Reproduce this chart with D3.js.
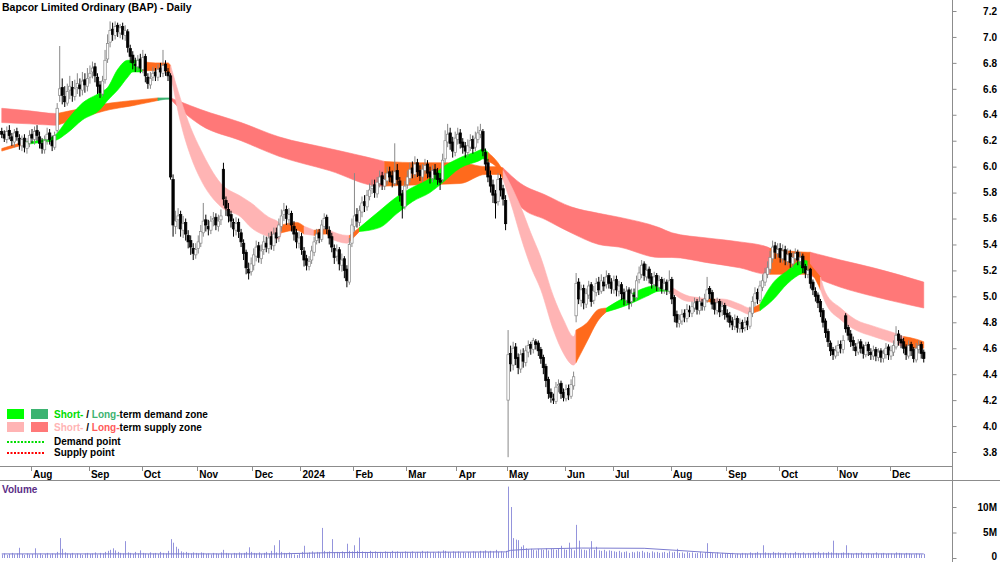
<!DOCTYPE html>
<html>
<head>
<meta charset="utf-8">
<script src="https://cdn.jsdelivr.net/npm/d3@7"></script>
<style>
body { margin: 0; background: #fff; }
svg { display: block; font-family: "Liberation Sans", Arial, sans-serif; }
</style>
</head>
<body>
<div id="chart"></div>
<script>
// month tick labels and the bar index where each month starts
var monthLabels = ["Aug","Sep","Oct","Nov","Dec","2024","Feb","Mar","Apr","May","Jun","Jul","Aug","Sep","Oct","Nov","Dec"];
var monthStarts = [12,35,56,78,100,119,140,161,181,201,224,243,266,288,309,332,353];

var priceTicks = [3.8,4.0,4.2,4.4,4.6,4.8,5.0,5.2,5.4,5.6,5.8,6.0,6.2,6.4,6.6,6.8,7.0,7.2];
var volTicks = [0, 5, 10];
var volTickLabels = ["0", "5M", "10M"];

// daily bars, prices in cents (Jul 2023 .. Dec 2024)
var opens = [
 627,625,621,628,623,619,627,622,616,622,614,618,
 625,621,628,623,618,613,621,626,620,615,628,655,661,654,649,659,661,654,661,663,659,667,662,
 669,673,677,669,663,656,667,683,696,706,701,709,703,708,701,704,691,686,679,677,683,
 675,685,669,663,669,673,669,676,672,679,673,670,590,554,559,563,551,557,547,543,537,532,
 537,541,549,559,554,551,559,561,554,559,598,574,567,563,557,551,557,549,541,534,521,519,
 524,531,539,529,536,541,537,546,539,549,546,554,563,567,559,564,554,549,541,
 546,535,529,523,528,534,543,549,544,554,561,551,546,537,531,536,524,529,521,511,541,
 554,563,557,565,573,569,577,583,586,579,587,593,585,589,596,593,587,597,589,579,569,
 586,591,599,594,603,597,592,597,602,596,591,598,595,591,590,606,619,626,619,611,
 621,626,619,616,611,615,621,615,621,625,627,611,603,593,586,579,573,591,583,574,
 420,456,447,461,453,444,456,449,457,463,459,465,464,459,453,446,436,426,421,419,431,433,426,
 421,429,423,431,485,511,497,506,494,501,509,497,503,511,504,511,509,516,511,
 505,513,504,509,503,497,505,496,501,499,513,517,525,515,521,515,509,516,507,513,505,511,504,
 513,499,486,479,481,487,483,489,487,491,496,489,495,492,497,506,503,495,489,496,489,493,
 487,485,481,477,483,475,480,476,481,477,487,495,503,497,507,511,517,521,529,539,533,
 537,529,536,527,533,525,529,534,527,531,523,517,521,511,504,501,496,489,481,473,464,459,454,
 457,463,459,485,476,471,466,461,457,465,461,455,463,457,454,459,453,458,452,455,461,
 454,457,461,471,467,465,461,454,463,459,451,459,463,457
];
var highs = [
 630,628,631,632,626,629,630,625,624,625,622,628,
 629,631,632,627,622,624,630,629,624,627,649,693,668,662,664,670,666,667,672,668,673,672,676,
 678,681,680,672,666,670,690,702,712,711,712,711,710,711,709,706,694,689,684,686,687,
 690,687,672,673,677,676,679,680,690,682,676,672,594,566,568,566,562,560,551,547,541,541,
 547,555,572,563,559,562,565,564,563,567,603,577,572,566,560,561,560,552,544,536,526,530,
 537,543,542,540,547,546,549,550,553,553,560,567,572,570,568,566,558,552,550,
 549,538,532,531,539,546,552,552,559,564,563,554,549,540,540,538,533,531,524,545,560,
 595,568,570,577,578,582,587,590,590,592,597,596,595,600,600,597,618,602,592,582,589,
 597,603,604,608,606,601,602,606,605,600,601,602,599,595,610,628,633,630,623,627,
 630,629,622,619,621,625,624,627,631,633,629,614,606,597,590,582,595,594,586,578,
 474,462,465,464,456,459,460,462,466,465,468,467,466,461,455,448,438,429,425,434,436,435,429,
 432,432,436,442,518,514,509,509,506,512,511,508,514,515,517,515,520,518,514,
 516,516,512,511,506,508,507,506,506,516,523,528,527,525,523,518,519,518,516,515,514,513,520,
 515,501,489,486,490,490,494,493,496,499,498,500,498,502,515,508,505,498,499,498,496,495,
 490,488,484,486,485,483,482,484,484,492,500,507,506,512,517,522,527,535,543,542,541,
 541,540,539,537,536,534,537,536,534,533,525,524,522,513,507,503,498,491,483,475,466,461,462,
 466,466,470,487,478,474,469,464,467,467,463,465,465,460,462,461,460,460,459,464,463,
 462,466,477,474,470,468,463,466,465,461,464,466,465,459
];
var lows = [
 622,619,618,621,616,615,620,613,612,611,610,615,
 618,617,620,614,610,610,617,617,612,613,626,650,648,646,647,652,650,651,656,654,655,657,658,
 664,668,665,656,653,654,664,680,692,697,698,700,699,698,697,688,680,675,673,674,672,
 672,665,660,660,666,666,666,669,669,670,666,590,546,548,552,546,545,543,537,532,528,529,
 533,538,546,550,547,548,554,551,550,555,570,562,557,553,546,547,545,538,528,517,513,516,
 520,527,526,525,532,534,533,536,535,541,542,550,558,555,555,550,543,537,537,
 532,523,520,520,525,531,540,541,542,551,548,540,534,525,527,520,519,514,507,509,538,
 550,553,554,561,565,566,574,579,576,576,584,582,582,586,588,584,585,586,573,560,567,
 583,588,591,591,592,589,588,594,591,587,588,590,586,582,588,603,615,613,607,608,
 617,614,610,607,608,612,610,612,618,622,608,597,588,580,572,560,570,577,570,551,
 376,442,443,447,440,441,445,446,453,455,456,459,454,448,440,430,421,418,417,417,426,421,419,
 419,420,421,428,480,494,492,490,491,498,492,494,500,501,502,504,506,506,502,
 502,500,500,497,493,494,490,492,496,497,510,514,512,512,510,506,506,504,504,502,502,501,502,
 494,480,476,476,478,480,480,484,484,488,486,486,489,489,495,498,490,486,486,484,485,482,
 480,476,474,474,472,472,472,473,474,475,484,492,494,495,504,508,514,518,526,529,530,
 526,526,524,524,522,522,526,524,524,518,514,514,506,501,496,491,484,476,468,461,454,451,452,
 454,456,456,472,466,461,458,454,455,456,452,453,454,451,451,450,450,449,449,452,451,
 451,454,459,462,460,456,451,452,454,449,449,456,452,449
];
var closes = [
 625,622,627,624,620,626,623,617,621,615,619,624,
 622,627,624,618,614,620,625,621,616,624,645,660,655,650,658,662,655,660,664,660,666,663,668,
 672,676,670,662,657,666,682,695,705,702,708,704,707,702,705,692,685,680,678,682,676,
 684,670,664,668,672,670,675,673,678,674,670,592,555,558,562,552,556,548,542,538,533,536,
 542,550,558,555,552,558,560,555,558,562,575,568,562,558,552,556,550,542,533,522,518,525,
 532,538,530,535,542,538,545,540,548,545,555,562,566,560,563,555,548,542,545,
 536,528,524,527,535,542,548,545,555,560,552,545,538,530,535,525,528,520,512,540,555,
 562,558,566,572,570,578,582,585,580,588,592,586,590,595,592,588,596,590,578,570,585,
 592,598,595,602,596,593,598,601,595,592,597,594,590,588,605,620,625,618,612,622,
 625,618,615,612,616,620,614,622,626,628,612,602,592,585,578,572,590,582,575,556,
 455,448,460,452,445,455,450,458,462,460,466,463,458,452,445,435,425,422,420,430,432,425,422,
 428,424,432,438,510,498,505,495,502,508,496,504,510,505,512,508,515,510,506,
 512,505,508,502,498,504,495,502,500,512,518,524,516,520,514,510,515,508,512,506,510,505,512,
 498,485,480,482,486,484,490,488,492,495,490,496,493,498,505,502,494,490,495,488,492,486,
 484,480,478,482,476,479,475,480,478,488,496,502,498,508,512,518,522,530,538,534,536,
 530,535,528,532,526,530,533,528,530,522,518,520,510,505,500,495,488,480,472,465,458,455,458,
 462,460,466,475,470,465,462,458,464,460,456,462,458,455,458,454,457,453,456,460,455,
 458,462,470,466,464,460,455,462,458,452,460,462,456,452
];
// volume in units of 100k shares
var volumes = [
 7,9,6,8,10,7,9,20,8,6,9,7,
 8,19,7,9,6,8,10,7,9,8,12,39,18,11,9,8,10,7,9,8,6,9,10,
 8,9,11,7,10,9,12,14,16,19,15,12,10,9,33,11,10,8,12,9,15,
 10,9,8,11,9,10,8,12,10,9,14,37,30,22,18,13,11,12,10,9,11,10,
 9,11,10,8,9,7,10,9,8,11,16,10,9,8,10,9,11,9,10,12,21,12,
 10,9,11,8,10,12,9,14,25,11,35,12,10,9,11,8,7,6,9,
 12,24,10,11,13,10,12,11,59,14,12,13,37,11,12,10,13,11,28,14,13,
 25,14,40,13,12,11,14,12,13,11,12,10,13,12,11,14,12,13,11,12,13,
 12,11,13,10,12,11,14,12,13,11,12,10,13,11,15,14,12,11,13,12,
 13,11,12,10,12,11,13,12,11,14,13,15,12,14,13,16,12,13,11,14,
 140,100,39,36,35,22,25,19,17,18,16,15,18,17,16,19,15,18,17,16,18,24,17,
 16,30,18,15,65,34,17,16,15,18,33,16,22,15,14,16,13,15,14,
 13,12,14,11,12,13,10,12,11,13,12,14,11,12,10,13,11,12,10,11,12,10,13,
 11,12,18,10,11,9,12,10,11,9,10,12,9,11,29,12,10,9,11,8,10,9,
 9,8,10,7,9,8,10,9,8,11,9,10,12,9,25,11,10,9,12,10,11,
 10,9,11,8,10,9,12,10,9,11,8,10,9,11,10,12,9,11,10,12,11,34,10,
 9,10,11,25,10,9,8,10,9,11,8,9,10,8,9,11,8,9,10,8,9,
 9,8,11,10,9,8,10,9,8,7,9,8,7,8
];
// average volume line (millions), read at these bar indices
var volAvgIdx = [0, 110, 130, 200, 202, 210, 230, 255, 268, 280, 292, 366];
var volAvg = [0.8, 0.8, 1.05, 1.2, 1.5, 1.75, 1.95, 1.9, 1.5, 1.1, 0.8, 0.8];

// short-term zone edges (cents) at bar indices; o = mixed, g = demand, p = supply
var shortIdx = [0,7,9,17,21,26,32,39,42,46,50,52,55,56,61,66,67,71,75,79,87,95,99,106,110,111,117,120,124,129,130,137,138,142,150,157,163,170,174,182,190,191,193,197,199,203,206,210,214,219,223,227,228,232,237,240,248,256,261,265,266,273,277,280,283,286,293,297,298,301,306,312,318,320,322,325,327,333,339,346,354,358,363,366];
var shortHi = [614,618,619,621,624,636,649,657,661,675,682,682,682,681,680,680,678,652,630,613,587,577,572,561,557,555,557,554,551,552,551,547,547,553,566,577,584,591,598,607,613,614,611,603,597,582,569,549,530,500,482,469,474,479,490,491,500,507,509,509,507,500,499,498,498,498,494,491,491,494,510,520,528,527,522,515,503,491,482,477,472,469,467,465];
var shortLo = [612,616,617,619,620,626,636,644,651,659,669,673,673,674,674,673,672,634,608,590,569,561,553,546,544,549,551,548,547,548,545,541,542,550,553,564,573,580,586,599,605,606,604,598,590,566,546,523,505,474,456,447,449,464,482,488,493,500,504,504,503,496,496,496,495,494,489,486,487,489,497,510,518,519,516,505,495,482,474,469,464,461,460,460];
var shortState = ["o","o","g","g","g","g","g","g","g","g","g","g","g","o","o","o","p","p","p","p","p","p","p","p","p","o","o","p","o","o","p","p","o","g","g","g","g","g","g","g","g","g","o","o","p","p","p","p","p","p","p","p","o","o","o","g","g","g","g","o","p","p","p","o","p","p","p","p","o","g","g","g","g","o","o","p","p","p","p","p","p","o","o","p"];

// long-term zone edges (cents); r = supply, o = mixed, G = demand
var longIdx = [0,11,21,22,32,43,52,57,62,66,67,71,79,95,110,130,150,152,166,182,192,197,199,206,216,226,237,245,261,266,280,293,304,305,320,321,333,346,366];
var longHi = [645,643,641,641,645,649,651,652,653,653,653,650,644,634,623,614,605,604,603,603,600,600,599,587,578,569,564,561,553,549,545,542,538,537,534,534,528,522,511];
var longLo = [634,633,632,632,638,644,647,649,651,652,652,644,632,620,608,597,585,585,586,587,594,594,592,569,559,549,540,538,530,530,526,522,517,517,517,516,507,500,491];
var longState = ["r","r","r","o","o","o","o","o","G","G","r","r","r","r","r","r","r","o","o","o","o","o","r","r","r","r","r","r","r","r","r","r","r","o","o","r","r","r","r"];

var shortColors = { g: "#00ff00", p: "#ffb4b4", o: "#ff6a1c" };
var longColors = { G: "#3cb371", r: "#ff7878", o: "#ff6a1c" };

var width = 1000, height = 562;

var svg = d3.select("#chart").append("svg")
    .attr("width", width)
    .attr("height", height);

var x = d3.scaleLinear().domain([12, 353]).range([32, 891]);
var y = d3.scaleLinear().domain([3.8, 7.2]).range([452, 11]);
var yv = d3.scaleLinear().domain([0, 10]).range([558, 507]);

svg.append("clipPath").attr("id", "mainClip")
  .append("rect").attr("x", 0).attr("y", 0).attr("width", 952).attr("height", 466);

var plot = svg.append("g").attr("clip-path", "url(#mainClip)");

// zones drawn as runs of the same state
function drawZone(g, idx, hi, lo, st, colors){
    var area = d3.area()
        .x(function(k){ return x(idx[k]); })
        .y0(function(k){ return y(lo[k] / 100); })
        .y1(function(k){ return y(hi[k] / 100); })
        .curve(d3.curveMonotoneX);
    var start = 0;
    for (var k = 1; k < idx.length; k++) {
        if (k === idx.length - 1 || st[k] !== st[start]) {
            g.append("path")
                .datum(d3.range(start, k + 1))
                .attr("fill", colors[st[start]])
                .attr("stroke", colors[st[start]])
                .attr("stroke-width", 0.6)
                .attr("d", area);
            start = k;
        }
    }
}

drawZone(plot.append("g"), longIdx, longHi, longLo, longState, longColors);
drawZone(plot.append("g"), shortIdx, shortHi, shortLo, shortState, shortColors);

// candles
var bars = d3.range(closes.length);
var candles = plot.append("g").selectAll("g")
    .data(bars)
    .enter()
    .append("g");

candles.append("line")
    .attr("x1", function(i){ return x(i); })
    .attr("x2", function(i){ return x(i); })
    .attr("y1", function(i){ return y(highs[i] / 100); })
    .attr("y2", function(i){ return y(lows[i] / 100); })
    .attr("stroke", function(i){ return closes[i] >= opens[i] ? "#888" : "#000"; })
    .attr("stroke-width", 1);

candles.append("rect")
    .attr("x", function(i){ return x(i) - 1.2; })
    .attr("width", 2.4)
    .attr("y", function(i){ return y(Math.max(opens[i], closes[i]) / 100); })
    .attr("height", function(i){
        return Math.max(0.8, Math.abs(y(opens[i] / 100) - y(closes[i] / 100)));
    })
    .attr("fill", function(i){ return closes[i] >= opens[i] ? "#fff" : "#000"; })
    .attr("stroke", function(i){ return closes[i] >= opens[i] ? "#888" : "#000"; })
    .attr("stroke-width", 0.7);

// frame lines
svg.append("line").attr("x1", 0).attr("x2", 952).attr("y1", 466.5).attr("y2", 466.5)
    .attr("stroke", "#8c8c8c");
svg.append("line").attr("x1", 0).attr("x2", 1000).attr("y1", 480.5).attr("y2", 480.5)
    .attr("stroke", "#8c8c8c");
svg.append("line").attr("x1", 952.5).attr("x2", 952.5).attr("y1", 0).attr("y2", 562)
    .attr("stroke", "#8c8c8c");

// price axis
var yAxis = svg.append("g")
    .attr("transform", "translate(952.5,0)")
    .call(d3.axisRight(y).tickValues(priceTicks).tickSize(4).tickFormat(d3.format(".1f")));
yAxis.select(".domain").remove();
yAxis.selectAll("line").attr("stroke", "#8c8c8c");
yAxis.selectAll("text")
    .attr("x", 44.5)
    .attr("text-anchor", "end")
    .attr("fill", "#000")
    .style("font-family", "Liberation Sans, Arial, sans-serif")
    .style("font-size", "10px")
    .style("font-weight", "bold");

// volume axis
var vAxis = svg.append("g")
    .attr("transform", "translate(952.5,0)")
    .call(d3.axisRight(yv).tickValues(volTicks).tickSize(4)
        .tickFormat(function(d, k){ return volTickLabels[k]; }));
vAxis.select(".domain").remove();
vAxis.selectAll("line").attr("stroke", "#8c8c8c");
vAxis.selectAll("text")
    .attr("x", 44.5)
    .attr("text-anchor", "end")
    .attr("fill", "#000")
    .style("font-family", "Liberation Sans, Arial, sans-serif")
    .style("font-size", "10px")
    .style("font-weight", "bold");
// keep the zero label inside the picture
vAxis.selectAll("text").filter(function(d){ return d === 0; })
    .attr("dy", "0.1em");

// month ticks
var months = svg.append("g").selectAll("g")
    .data(monthStarts)
    .enter()
    .append("g");
months.append("line")
    .attr("x1", function(d){ return Math.round(x(d) - 1.3) + 0.5; })
    .attr("x2", function(d){ return Math.round(x(d) - 1.3) + 0.5; })
    .attr("y1", 467).attr("y2", 471)
    .attr("stroke", "#8c8c8c");
months.append("text")
    .attr("x", function(d){ return x(d) + 1; })
    .attr("y", 477.5)
    .style("font-size", "10px")
    .style("font-weight", "bold")
    .text(function(d, k){ return monthLabels[k]; });

// volume bars
svg.append("g").selectAll("line")
    .data(bars)
    .enter()
    .append("line")
    .attr("x1", function(i){ return Math.round(x(i)) + 0.5; })
    .attr("x2", function(i){ return Math.round(x(i)) + 0.5; })
    .attr("y1", yv(0))
    .attr("y2", function(i){ return yv(volumes[i] / 10); })
    .attr("stroke", "#9494dc")
    .attr("stroke-width", 1);

svg.append("path")
    .datum(d3.range(volAvgIdx.length))
    .attr("fill", "none")
    .attr("stroke", "#7c7cd0")
    .attr("stroke-width", 1)
    .attr("d", d3.line()
        .x(function(k){ return x(volAvgIdx[k]); })
        .y(function(k){ return yv(volAvg[k]); }));

svg.append("text")
    .attr("x", 2).attr("y", 493)
    .attr("fill", "#5a2d86")
    .style("font-size", "10px")
    .style("font-weight", "bold")
    .text("Volume");

// title
svg.append("text")
    .attr("x", 2).attr("y", 11)
    .style("font-size", "10.5px")
    .style("font-weight", "bold")
    .text("Bapcor Limited Ordinary (BAP) - Daily");

// legend
var legend = svg.append("g").style("font-size", "10px").style("font-weight", "bold");
legend.append("rect").attr("x", 7).attr("y", 409).attr("width", 17).attr("height", 10).attr("fill", shortColors.g);
legend.append("rect").attr("x", 31).attr("y", 409).attr("width", 17).attr("height", 10).attr("fill", longColors.G);
legend.append("rect").attr("x", 7).attr("y", 422).attr("width", 17).attr("height", 10).attr("fill", shortColors.p);
legend.append("rect").attr("x", 31).attr("y", 422).attr("width", 17).attr("height", 10).attr("fill", longColors.r);
legend.append("line").attr("x1", 7).attr("x2", 44).attr("y1", 442).attr("y2", 442)
    .attr("stroke", "#00dd00").attr("stroke-width", 2).attr("stroke-dasharray", "2,1.5");
legend.append("line").attr("x1", 7).attr("x2", 44).attr("y1", 453).attr("y2", 453)
    .attr("stroke", "#ff0000").attr("stroke-width", 2).attr("stroke-dasharray", "2,1.5");

var t1 = legend.append("text").attr("x", 54).attr("y", 418);
t1.append("tspan").attr("fill", "#00dd00").text("Short-");
t1.append("tspan").attr("fill", "#000").text(" / ");
t1.append("tspan").attr("fill", "#3cb371").text("Long-");
t1.append("tspan").attr("fill", "#000").text("term demand zone");

var t2 = legend.append("text").attr("x", 54).attr("y", 431);
t2.append("tspan").attr("fill", "#ffb4b4").text("Short-");
t2.append("tspan").attr("fill", "#000").text(" / ");
t2.append("tspan").attr("fill", "#ff5a5a").text("Long-");
t2.append("tspan").attr("fill", "#000").text("term supply zone");

legend.append("text").attr("x", 54).attr("y", 445).text("Demand point");
legend.append("text").attr("x", 54).attr("y", 456).text("Supply point");
</script>
</body>
</html>
